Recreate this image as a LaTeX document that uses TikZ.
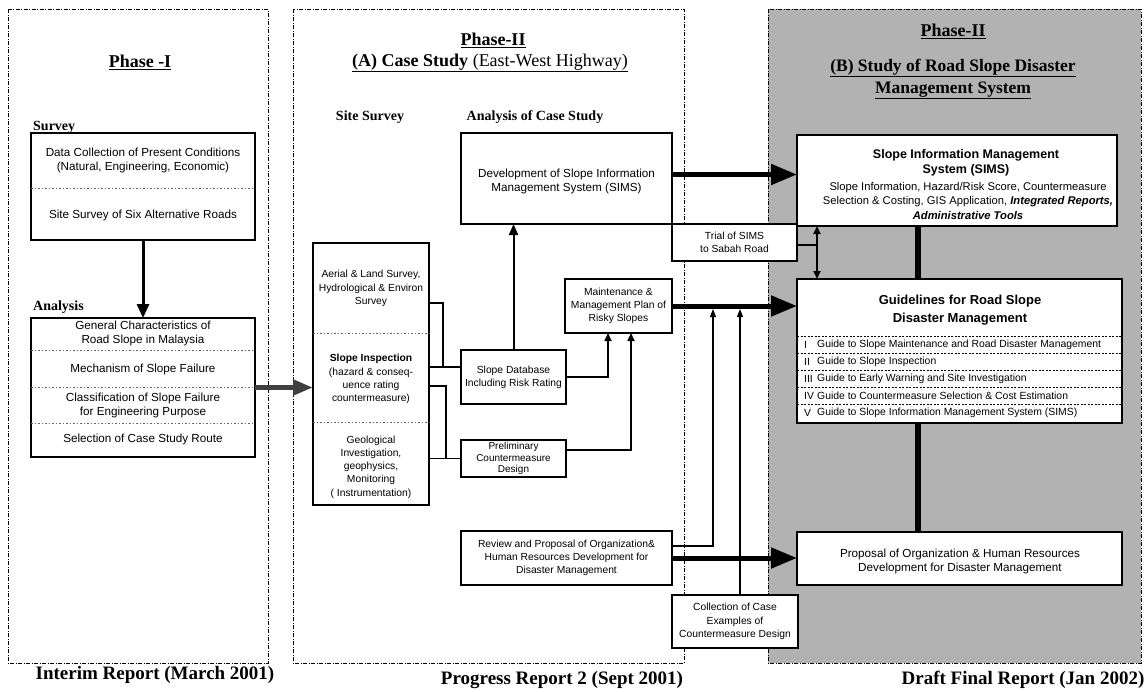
\documentclass[tikz,border=0pt]{standalone}
\usepackage{fontspec}
\setmainfont{Liberation Serif}
\setsansfont{Liberation Sans}
\usetikzlibrary{arrows.meta,calc}
\begin{document}
\begin{tikzpicture}[x=1pt,y=-1pt,
 panel/.style={line width=0.9pt, dash pattern=on 4pt off 1.5pt on 1pt off 1.5pt},
 bx/.style={draw, line width=1.4pt, fill=white, inner sep=0pt, outer sep=0pt},
 sepline/.style={line width=0.5pt, black!60, dash pattern=on 1.5pt off 2pt},
 txt/.style={inner sep=0pt, align=center, font=\sffamily\fontsize{11.7}{14}\selectfont},
 stxt/.style={inner sep=0pt, align=center, font=\sffamily\fontsize{10.3}{13.3}\selectfont},
 gtxt/.style={inner sep=0pt, anchor=west, font=\sffamily\fontsize{10.4}{12}\selectfont},
 ttl/.style={inner sep=0pt, font=\bfseries\fontsize{18}{20}\selectfont},
 subttl/.style={inner sep=0pt, font=\bfseries\fontsize{14}{16}\selectfont},
 rpt/.style={inner sep=0pt, font=\bfseries\fontsize{19}{21}\selectfont},
 conn/.style={line width=1.6pt},
 bigarrow/.style={line width=5pt, -{Triangle[length=26pt,width=20pt]}},
 tip/.style={-{Triangle[length=8pt,width=7pt]}},
]
\useasboundingbox (0,0) rectangle (1145,691);
% panels
\fill[black!30] (768,9) rectangle (1141,663);
\draw[panel] (8,9) rectangle (268,663);
\draw[panel] (293,9) rectangle (684,663);
\draw[panel] (768,9) rectangle (1141,663);

% titles
\node[ttl] (tI) at (140,62) {\underline{Phase -I}};
\node[ttl] (tIIA) at (493,40) {\underline{Phase-II}};
\node[ttl] (tA) at (490,63) {\underline{(A) Case Study \mdseries(East-West Highway)}};
\node[ttl] (tIIB) at (953,31) {\underline{Phase-II}};
\node[ttl, align=center, font=\bfseries\fontsize{17.5}{22}\selectfont] (tB) at (953,79) {\underline{(B) Study of Road Slope Disaster}\\\underline{Management System}};

\node[subttl, anchor=west] (lsur) at (33,127) {Survey};
\node[subttl, anchor=west] (lana) at (33,307) {Analysis};
\node[subttl] (lss) at (370,117) {Site Survey};
\node[subttl] (lacs) at (535,117) {Analysis of Case Study};

% Phase I boxes
\node[bx, minimum width=224pt, minimum height=107pt] (p1a) at (143,186.5) {};
\node[txt] (p1a1) at (143,160) {Data Collection of Present Conditions\\(Natural, Engineering, Economic)};
\draw[sepline] (p1a.west |- 0,188) -- (p1a.east |- 0,188);
\node[txt] (p1a2) at (143,215) {Site Survey of Six Alternative Roads};

\node[bx, minimum width=224pt, minimum height=139pt] (p1b) at (143,387.5) {};
\node[txt] (p1b1) at (143,333.5) {General Characteristics of\\Road Slope in Malaysia};
\draw[sepline] (p1b.west |- 0,350) -- (p1b.east |- 0,350);
\node[txt] (p1b2) at (143,369) {Mechanism of Slope Failure};
\draw[sepline] (p1b.west |- 0,387) -- (p1b.east |- 0,387);
\node[txt] (p1b3) at (143,405) {Classification of Slope Failure\\for Engineering Purpose};
\draw[sepline] (p1b.west |- 0,423) -- (p1b.east |- 0,423);
\node[txt] (p1b4) at (143,439.5) {Selection of Case Study Route};

% Site survey column
\node[bx, minimum width=116pt, minimum height=262pt] (col) at (371,374) {};
\node[stxt] (c1) at (371,288.5) {Aerial \& Land Survey,\\Hydrological \& Environ\\Survey};
\draw[sepline] (col.west |- 0,333) -- (col.east |- 0,333);
\node[stxt] (c2) at (371,379) {\textbf{Slope Inspection}\\(hazard \& conseq-\\uence rating\\countermeasure)};
\draw[sepline] (col.west |- 0,422) -- (col.east |- 0,422);
\node[stxt] (c3) at (371,467) {Geological\\Investigation,\\geophysics,\\Monitoring\\( Instrumentation)};

% Phase II (A) boxes
\node[bx, minimum width=211pt, minimum height=91pt] (simsdev) at (566.5,178.5) {};
\node[txt] (sd1) at (566.5,181) {Development of Slope Information\\Management System (SIMS)};
\node[bx, stxt, minimum width=105pt, minimum height=54pt] (db) at (513.5,377) {Slope Database\\Including Risk Rating};
\node[bx, stxt, minimum width=105pt, minimum height=37pt, font=\sffamily\fontsize{10}{11.5}\selectfont] (prelim) at (513.5,458.5) {Preliminary\\Countermeasure\\Design};
\node[bx, stxt, minimum width=107pt, minimum height=54pt] (maint) at (618.5,306) {Maintenance \&\\Management Plan of\\Risky Slopes};
\node[bx, stxt, minimum width=125pt, minimum height=37pt] (trial) at (734.5,242.5) {Trial of SIMS\\to Sabah Road};
\node[bx, stxt, minimum width=211pt, minimum height=54pt] (review) at (566.5,558) {Review and Proposal of Organization\&\\Human Resources Development for\\Disaster Management};
\node[bx, stxt, minimum width=126pt, minimum height=53pt] (collect) at (735,621.5) {Collection of Case\\Examples of\\Countermeasure Design};

% Phase II (B) boxes
\node[bx, minimum width=320pt, minimum height=91pt] (simsB) at (957,180.5) {};
\node[inner sep=0pt, align=center, font=\sffamily\bfseries\fontsize{12.5}{15}\selectfont] (sb1) at (966,162.5) {Slope Information Management\\System (SIMS)};
\node[inner sep=0pt, align=center, font=\sffamily\fontsize{11.2}{14.5}\selectfont] (sb2) at (968,200.5) {Slope Information, Hazard/Risk Score, Countermeasure\\Selection \& Costing, GIS Application, \textbf{\textit{Integrated Reports,}}\\\textbf{\textit{Administrative Tools}}};

\node[bx, minimum width=325pt, minimum height=144pt] (guide) at (959.5,351) {};
\node[inner sep=0pt, align=center, font=\sffamily\bfseries\fontsize{13}{18}\selectfont] (g0) at (960,310) {Guidelines for Road Slope\\Disaster Management};
\foreach \yy in {336,353,370,387,404} {\draw[line width=0.5pt, dash pattern=on 2pt off 1.5pt] (guide.west |- 0,\yy) -- (guide.east |- 0,\yy);}
\node[gtxt] (gn1) at (804,344.5) {I};
\node[gtxt] (gi1) at (817,344.5) {Guide to Slope Maintenance and Road Disaster Management};
\node[gtxt] (gn2) at (804,361.5) {II};
\node[gtxt] (gi2) at (817,361.5) {Guide to Slope Inspection};
\node[gtxt] (gn3) at (804,378.5) {III};
\node[gtxt] (gi3) at (817,378.5) {Guide to Early Warning and Site Investigation};
\node[gtxt] (gn4) at (804,395.5) {IV};
\node[gtxt] (gi4) at (817,395.5) {Guide to Countermeasure Selection \& Cost Estimation};
\node[gtxt] (gn5) at (804,413) {V};
\node[gtxt] (gi5) at (817,413) {Guide to Slope Information Management System (SIMS)};

\node[bx, minimum width=325pt, minimum height=53pt] (propB) at (959.5,558.5) {};
\node[txt] (pb1) at (960,561) {Proposal of Organization \& Human Resources\\Development for Disaster Management};

% connectors
\draw[line width=3pt, -{Triangle[length=14pt,width=12pt]}] (p1a.south) -- (p1b.north);
\draw[line width=5pt, black!75, -{Triangle[length=20pt,width=15pt]}] (p1b.east) -- (p1b.east -| col.west);

\coordinate (dbin) at ([yshift=10pt]db.west);
\draw[conn] ([yshift=71pt]col.east) -- ++(14,0) |- (dbin);
\draw[conn] (col.east |- dbin) -- (dbin);
\draw[conn] ([yshift=-12pt]col.east) -- ++(17,0) |- (prelim.west);
\draw[conn] (col.east |- prelim.west) -- (prelim.west);

\draw[line width=2pt, -{Triangle[length=11pt,width=9pt]}] (db.north) -- (db.north |- simsdev.south);
\draw[conn, tip] (db.east) -| ([xshift=-10.5pt]maint.south);
\coordinate (pin) at ([yshift=8.5pt]prelim.east);
\draw[conn, tip] (pin) -| ([xshift=12.5pt]maint.south);

\coordinate (s1) at ([yshift=4pt]simsdev.east);
\draw[bigarrow] (s1) -- (s1 -| simsB.west);
\draw[bigarrow] (maint.east) -- (maint.east -| guide.west);
\draw[bigarrow] (review.east) -- (review.east -| propB.west);

\coordinate (r1) at ([yshift=12pt]review.east);
\coordinate (j1) at (713,309);
\coordinate (j2) at (740,309);
\draw[line width=1.3pt, -{Triangle[length=8pt,width=6pt]}] (r1) -| (j1);
\draw[line width=1.3pt, -{Triangle[length=8pt,width=6pt]}] ([xshift=5pt]collect.north) -- (j2);

\coordinate (d1) at ([xshift=20pt]simsB.south west);
\draw[conn] ([yshift=-2.5pt]trial.east) -- (d1 |- 0,245);
\draw[line width=2pt, {Triangle[length=8pt,width=7pt]}-{Triangle[length=8pt,width=7pt]}] (d1) -- (d1 |- guide.north);

\coordinate (v1) at (918,0);
\draw[line width=6pt] (v1 |- simsB.south) -- (v1 |- guide.north);
\draw[line width=6pt] (v1 |- guide.south) -- (v1 |- propB.north);

% report labels
\node[rpt] (r1l) at (155,675) {Interim Report (March 2001)};
\node[rpt] (r2l) at (562,680) {Progress Report 2 (Sept 2001)};
\node[rpt] (r3l) at (1023,680) {Draft Final Report (Jan 2002)};
\end{tikzpicture}
\end{document}
